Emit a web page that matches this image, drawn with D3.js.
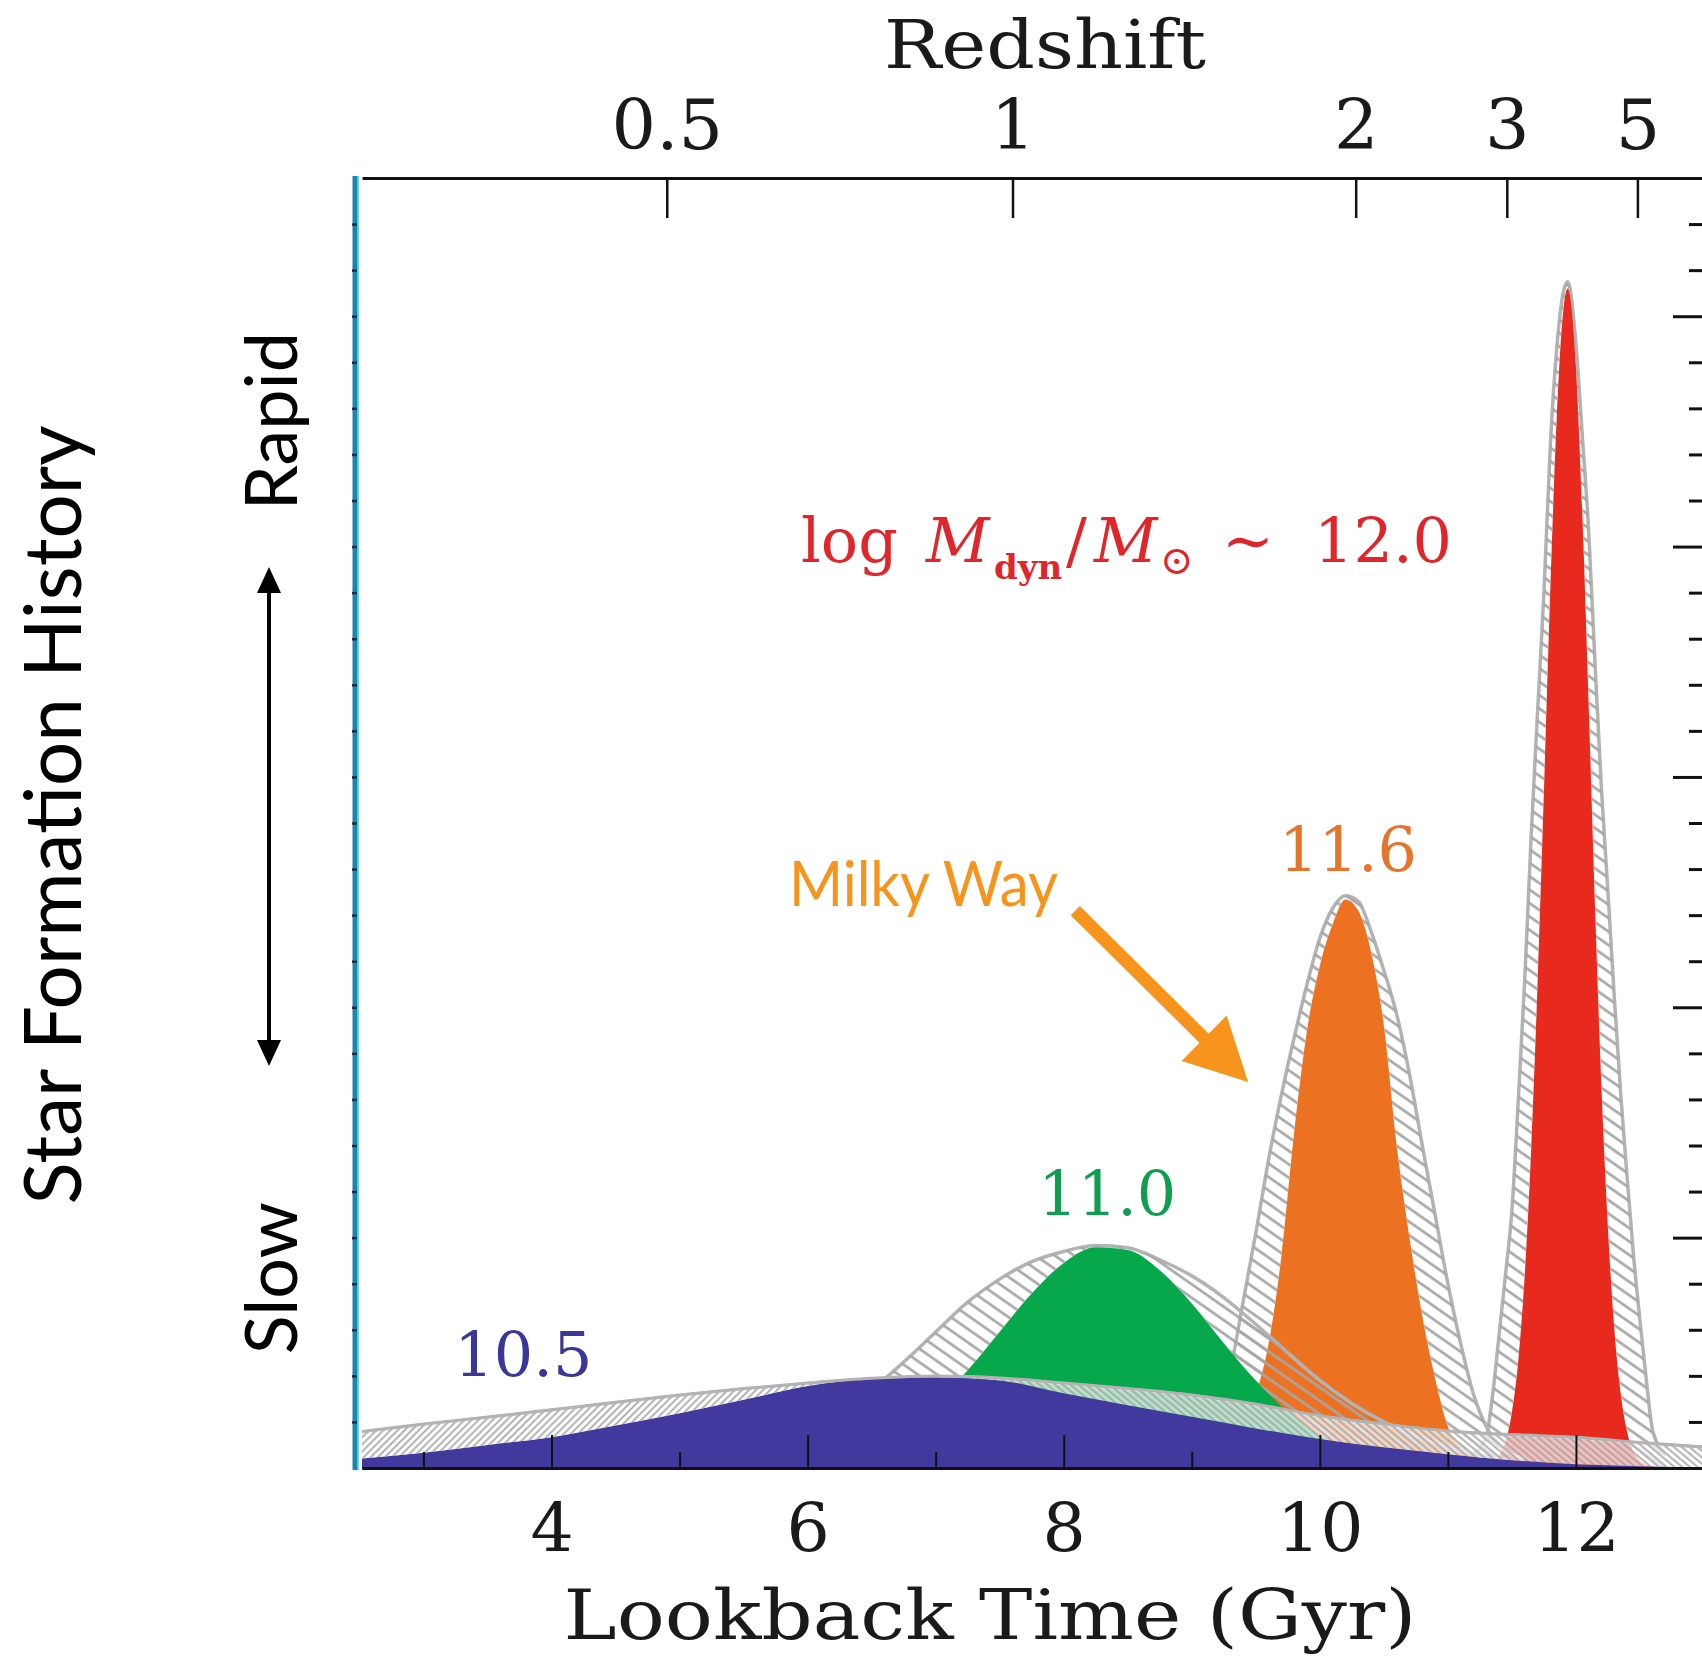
<!DOCTYPE html>
<html>
<head>
<meta charset="utf-8">
<script src="https://cdn.jsdelivr.net/npm/d3@7"></script>
<style>
  body { margin: 0; background: #fff; }
  svg { display: block; }
</style>
</head>
<body>
<svg id="chart" width="1702" height="1660"></svg>
<script>
// ---- data (lookback time in Gyr, SFR in arbitrary units) ----
var blueX    = [2.5, 3.0, 3.5, 4.0, 4.5, 5.0, 5.5, 6.0, 6.5, 7.0, 7.5, 8.0, 8.5, 9.0, 9.5, 10.0, 10.5, 11.0, 11.5, 12.0, 12.5, 13.0];
var blueFill = [0.2, 0.33, 0.5, 0.67, 0.92, 1.19, 1.48, 1.78, 1.93, 1.97, 1.9, 1.62, 1.36, 1.11, 0.86, 0.63, 0.45, 0.3, 0.17, 0.08, 0.04, 0.02];
var blueEnv  = [0.78, 0.95, 1.1, 1.26, 1.42, 1.58, 1.72, 1.84, 1.94, 1.99, 1.95, 1.84, 1.72, 1.58, 1.38, 1.13, 0.95, 0.8, 0.72, 0.66, 0.55, 0.45];

var greenX    = [6.0, 6.25, 6.5, 6.75, 7.0, 7.25, 7.5, 7.75, 8.0, 8.25, 8.5, 8.75, 9.0, 9.25, 9.5, 9.75, 10.0, 10.25, 10.5, 10.75, 11.0, 11.5];
var greenFill = [0.1, 0.23, 0.46, 0.84, 1.39, 2.12, 2.96, 3.79, 4.45, 4.79, 4.73, 4.29, 3.57, 2.71, 1.9, 1.22, 0.72, 0.39, 0.19, 0.09, 0.04, 0.01];
var greenEnv  = [0.9, 1.25, 1.7, 2.3, 2.95, 3.6, 4.1, 4.48, 4.7, 4.83, 4.78, 4.52, 4.17, 3.7, 3.12, 2.5, 1.9, 1.4, 1.0, 0.7, 0.45, 0.15];

var orangeX    = [9.0, 9.1, 9.2, 9.3, 9.4, 9.5, 9.6, 9.7, 9.8, 9.9, 10.0, 10.1, 10.2, 10.3, 10.4, 10.5, 10.6, 10.7, 10.8, 10.9, 11.0, 11.1, 11.2, 11.3, 11.4, 11.6];
var orangeFill = [0.1, 0.2, 0.35, 0.6, 1.0, 1.6, 2.7, 4.6, 7.3, 9.5, 10.9, 11.8, 12.34, 12.1, 11.2, 9.6, 7.0, 5.0, 3.3, 1.95, 0.9, 0.45, 0.25, 0.12, 0.06, 0.02];
var orangeEnv  = [0.3, 0.5, 1.1, 2.1, 3.6, 5.1, 6.7, 8.1, 9.35, 10.5, 11.5, 12.15, 12.42, 12.3, 11.65, 10.8, 9.85, 8.55, 7.0, 5.5, 4.0, 2.7, 1.6, 0.9, 0.5, 0.2];

var redX    = [11.2, 11.3, 11.35, 11.4, 11.45, 11.5, 11.55, 11.6, 11.65, 11.7, 11.75, 11.8, 11.85, 11.9, 11.935, 11.95, 12.0, 12.05, 12.1, 12.15, 12.2, 12.25, 12.3, 12.35, 12.4, 12.45, 12.5, 12.55, 12.6, 12.7];
var redFill = [0.01, 0.05, 0.1, 0.25, 0.57, 1.21, 2.34, 4.19, 6.9, 10.5, 14.7, 19.1, 22.8, 25.1, 25.6, 25.5, 23.9, 20.7, 16.5, 12.1, 8.2, 5.2, 3.0, 1.6, 0.78, 0.35, 0.15, 0.06, 0.03, 0.01];
var redEnv  = [0.3, 0.7, 1.6, 2.9, 4.2, 5.6, 8.0, 10.6, 13.7, 16.4, 19.0, 22.2, 24.3, 25.5, 25.75, 25.65, 24.4, 22.4, 20.3, 17.4, 14.7, 12.5, 10.2, 8.1, 6.3, 4.6, 3.2, 1.9, 0.8, 0.3];

// axis ticks
var lookbackMajor = [4, 6, 8, 10, 12];
var lookbackMinor = [3, 5, 7, 9, 11, 13];
var redshiftLabels = ["0.5", "1", "2", "3", "5"];
var redshiftAt     = [4.90, 7.60, 10.28, 11.46, 12.48];   // lookback time of each redshift
var sfrMajor = [5, 10, 15, 20, 25];
var sfrMinor = d3.range(1, 28).filter(function(d) { return d % 5 != 0; });

// mass labels
var massLabels = ["10.5", "11.0", "11.6"];
var massLabelAt = [[3.78, 2.0], [8.34, 5.5], [10.22, 12.95]];

// ---- layout ----
var W = 1702, H = 1660;
var plotL = 362, plotR = 1704, plotT = 178, plotB = 1468;
var serif = "'DejaVu Serif', serif";
var sans = "Lato, 'Open Sans', sans-serif";

var x = d3.scaleLinear().domain([2.52, 13.0]).range([plotL, plotR]);
var y = d3.scaleLinear().domain([0, 28]).range([plotB, plotT]);

var svg = d3.select("#chart");
svg.append("rect").attr("width", W).attr("height", H).attr("fill", "#fff");
var defs = svg.append("defs");

function hatch(id, size, angle, stroke, sw, bg) {
  var p = defs.append("pattern")
    .attr("id", id)
    .attr("patternUnits", "userSpaceOnUse")
    .attr("width", size).attr("height", size)
    .attr("patternTransform", "rotate(" + angle + ")");
  if (bg) p.append("rect").attr("width", size).attr("height", size).attr("fill", bg);
  p.append("line")
    .attr("x1", 0).attr("x2", size)
    .attr("y1", size / 2).attr("y2", size / 2)
    .attr("stroke", stroke).attr("stroke-width", sw);
}
hatch("hatchWide", 11, 35, "#a6a6a6", 2.6, null);
hatch("hatchFineL", 5, -45, "#a2a2a2", 1.7, "rgba(255,255,255,0.6)");
hatch("hatchFineR", 5, 40, "#a2a2a2", 1.7, "rgba(255,255,255,0.7)");

defs.append("clipPath").attr("id", "plotclip")
  .append("rect").attr("x", plotL).attr("y", plotT).attr("width", plotR - plotL).attr("height", plotB - plotT);

var plot = svg.append("g").attr("clip-path", "url(#plotclip)");

var series = [
  { xs: redX,    fill: redFill,    env: redEnv,    color: "#e8291d" },
  { xs: orangeX, fill: orangeFill, env: orangeEnv, color: "#ec7222" },
  { xs: greenX,  fill: greenFill,  env: greenEnv,  color: "#07a84c" },
  { xs: blueX,   fill: blueFill,   env: blueEnv,   color: "#41399e", split: 7.0 }
];

var envLine = d3.line().x(function(d) { return x(d.x); }).y(function(d) { return y(d.e); }).curve(d3.curveMonotoneX);
var fillArea = d3.area().x(function(d) { return x(d.x); }).y0(y(0)).y1(function(d) { return y(d.f); }).curve(d3.curveMonotoneX);
var band = d3.area().x(function(d) { return x(d.x); }).y0(function(d) { return y(d.f); }).y1(function(d) { return y(d.e); }).curve(d3.curveMonotoneX);

series.forEach(function(s) {
  var pts = s.xs.map(function(d, i) { return { x: d, f: s.fill[i], e: s.env[i] }; });

  plot.append("path").datum(pts)
    .attr("d", envLine)
    .attr("fill", "none")
    .attr("stroke", "#b3b3b3")
    .attr("stroke-width", 3.5);

  plot.append("path").datum(pts)
    .attr("d", fillArea)
    .attr("fill", s.color);

  if (s.split) {
    plot.append("path").datum(pts)
      .attr("d", band.defined(function(d) { return d.x <= s.split; }))
      .attr("fill", "url(#hatchFineL)");
    plot.append("path").datum(pts)
      .attr("d", band.defined(function(d) { return d.x >= s.split; }))
      .attr("fill", "url(#hatchFineR)");
    band.defined(function() { return true; });
    plot.append("path").datum(pts)
      .attr("d", envLine)
      .attr("fill", "none")
      .attr("stroke", "#b3b3b3")
      .attr("stroke-width", 2.5);
  } else {
    plot.append("path").datum(pts)
      .attr("d", band)
      .attr("fill", "url(#hatchWide)");
  }
});

// ---- axes ----
function styleAxis(g, sw) {
  g.select(".domain").attr("stroke", "#111").attr("stroke-width", 3);
  g.selectAll(".tick line").attr("stroke", "#111").attr("stroke-width", sw);
  g.selectAll(".tick text").attr("font-family", serif).attr("fill", "#1a1a1a");
}

var topAxis = svg.append("g").attr("transform", "translate(0," + plotT + ")")
  .call(d3.axisTop(x).tickValues(redshiftAt)
    .tickFormat(function(d, i) { return redshiftLabels[i]; })
    .tickSizeInner(-40).tickSizeOuter(0).tickPadding(29));
styleAxis(topAxis, 2.5);
topAxis.selectAll(".tick text").attr("font-size", 70);

var bottomMinor = svg.append("g").attr("transform", "translate(0," + plotB + ")")
  .call(d3.axisBottom(x).tickValues(lookbackMinor).tickFormat("").tickSizeInner(-16).tickSizeOuter(0));
styleAxis(bottomMinor, 2);

var bottomAxis = svg.append("g").attr("transform", "translate(0," + plotB + ")")
  .call(d3.axisBottom(x).tickValues(lookbackMajor).tickFormat(d3.format("d"))
    .tickSizeInner(-33).tickSizeOuter(0).tickPadding(35));
styleAxis(bottomAxis, 2);
bottomAxis.selectAll(".tick text").attr("font-size", 68);

var rightMinor = svg.append("g").attr("transform", "translate(" + plotR + ",0)")
  .call(d3.axisLeft(y).tickValues(sfrMinor).tickFormat("").tickSize(15));
styleAxis(rightMinor, 3);
var rightMajor = svg.append("g").attr("transform", "translate(" + plotR + ",0)")
  .call(d3.axisLeft(y).tickValues(sfrMajor).tickFormat("").tickSize(31));
styleAxis(rightMajor, 3);

// left axis: coloured line with small ticks
svg.append("line")
  .attr("x1", 355).attr("x2", 355).attr("y1", plotT - 2).attr("y2", plotB + 2)
  .attr("stroke", "#1a86ad").attr("stroke-width", 5);
svg.append("line")
  .attr("x1", 358).attr("x2", 358).attr("y1", plotT - 2).attr("y2", plotB + 2)
  .attr("stroke", "#3cc4ea").attr("stroke-width", 1.5);
var leftAxis = svg.append("g").attr("transform", "translate(352,0)")
  .call(d3.axisRight(y).tickValues(d3.range(1, 28)).tickFormat("").tickSize(5).tickSizeOuter(0));
leftAxis.select(".domain").remove();
leftAxis.selectAll(".tick line").attr("stroke", "#17303f").attr("stroke-width", 2.5);

// ---- axis titles ----
svg.append("text")
  .attr("x", 1045).attr("y", 68)
  .attr("text-anchor", "middle")
  .attr("font-family", serif).attr("font-size", 68).attr("fill", "#1a1a1a")
  .attr("textLength", 322).attr("lengthAdjust", "spacingAndGlyphs")
  .text("Redshift");

svg.append("text")
  .attr("x", 990).attr("y", 1639)
  .attr("text-anchor", "middle")
  .attr("font-family", serif).attr("font-size", 70).attr("fill", "#1a1a1a")
  .attr("textLength", 853).attr("lengthAdjust", "spacingAndGlyphs")
  .text("Lookback Time (Gyr)");

svg.append("text")
  .attr("transform", "translate(81,815) rotate(-90)")
  .attr("text-anchor", "middle")
  .attr("font-family", sans).attr("font-size", 80).attr("fill", "#000")
  .attr("textLength", 779).attr("lengthAdjust", "spacingAndGlyphs")
  .text("Star Formation History");

svg.append("text")
  .attr("transform", "translate(297,421) rotate(-90)")
  .attr("text-anchor", "middle")
  .attr("font-family", sans).attr("font-size", 72).attr("fill", "#000")
  .text("Rapid");

svg.append("text")
  .attr("transform", "translate(297,1278) rotate(-90)")
  .attr("text-anchor", "middle")
  .attr("font-family", sans).attr("font-size", 72).attr("fill", "#000")
  .text("Slow");

// double-headed arrow between Rapid and Slow
var ax = 269, ayTop = 567, ayBot = 1066;
svg.append("line")
  .attr("x1", ax).attr("x2", ax).attr("y1", ayTop + 20).attr("y2", ayBot - 20)
  .attr("stroke", "#000").attr("stroke-width", 4);
svg.append("path")
  .attr("d", "M" + ax + "," + ayTop + "L" + (ax - 12) + "," + (ayTop + 26) + "L" + (ax + 12) + "," + (ayTop + 26) + "Z")
  .attr("fill", "#000");
svg.append("path")
  .attr("d", "M" + ax + "," + ayBot + "L" + (ax - 12) + "," + (ayBot - 26) + "L" + (ax + 12) + "," + (ayBot - 26) + "Z")
  .attr("fill", "#000");

// ---- mass labels ----
var labelColors = ["#3b3796", "#0f9e4f", "#e5742c"];
massLabels.forEach(function(t, i) {
  svg.append("text")
    .attr("x", x(massLabelAt[i][0])).attr("y", y(massLabelAt[i][1]))
    .attr("text-anchor", "middle")
    .attr("font-family", serif).attr("font-size", 62)
    .attr("fill", labelColors[i])
    .text(t);
});

var red = "#e0262a";
var lbl = svg.append("text")
  .attr("x", 801).attr("y", 562)
  .attr("font-family", serif).attr("font-size", 62).attr("fill", red);
lbl.append("tspan").text("log");
lbl.append("tspan").attr("x", 926).attr("font-style", "italic").text("M");
lbl.append("tspan").attr("x", 994).attr("dy", 17).attr("font-size", 34).attr("font-weight", "bold").text("dyn");
lbl.append("tspan").attr("x", 1066).attr("dy", -17).text("/");
lbl.append("tspan").attr("x", 1094).attr("font-style", "italic").text("M");
lbl.append("tspan").attr("x", 1160).attr("dy", 12).attr("font-size", 40).text("\u2299");
lbl.append("tspan").attr("x", 1222).attr("dy", -12).text("\u223C");
lbl.append("tspan").attr("x", 1314).text("12.0");

// ---- Milky Way annotation ----
var mwOrange = "#f7941d";
svg.append("text")
  .attr("x", 789).attr("y", 906)
  .attr("font-family", sans).attr("font-size", 62).attr("fill", mwOrange)
  .attr("textLength", 269).attr("lengthAdjust", "spacingAndGlyphs")
  .text("Milky Way");

var arrowFrom = [8.09, 12.1], arrowTo = [9.44, 8.38];
var x0 = x(arrowFrom[0]), y0 = y(arrowFrom[1]), x1 = x(arrowTo[0]), y1 = y(arrowTo[1]);
var len = Math.hypot(x1 - x0, y1 - y0), ux = (x1 - x0) / len, uy = (y1 - y0) / len;
var headL = 62, headW = 32;
var bx = x1 - ux * headL, by = y1 - uy * headL;
svg.append("line")
  .attr("x1", x0).attr("y1", y0).attr("x2", bx + ux * 4).attr("y2", by + uy * 4)
  .attr("stroke", mwOrange).attr("stroke-width", 13);
svg.append("path")
  .attr("d", "M" + x1 + "," + y1 +
    "L" + (bx - uy * headW) + "," + (by + ux * headW) +
    "L" + (bx + uy * headW) + "," + (by - ux * headW) + "Z")
  .attr("fill", mwOrange);
</script>
</body>
</html>
